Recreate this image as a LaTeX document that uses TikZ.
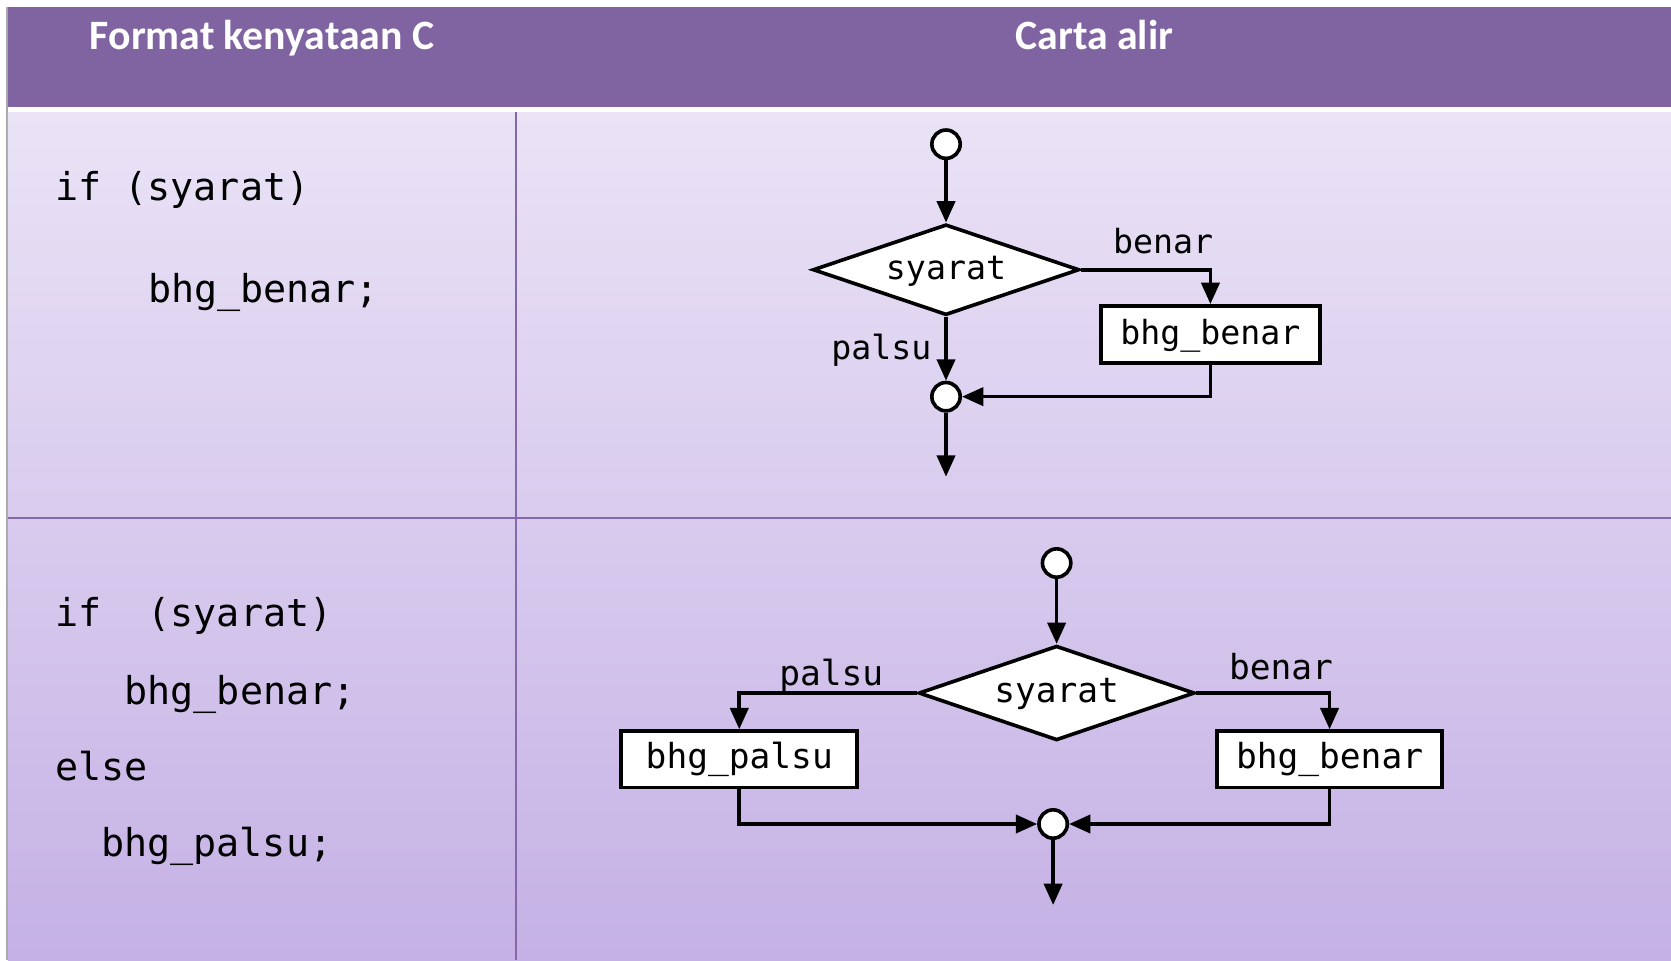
\documentclass[tikz,border=0pt]{standalone}
\usepackage{fontspec}
\setmainfont{Carlito}
\newfontfamily\codefont{DejaVu Sans Mono}
\usetikzlibrary{shapes.geometric,arrows.meta}
\definecolor{hdrpurple}{HTML}{8064A2}
\definecolor{bodytop}{HTML}{EAE3F6}
\definecolor{bodybot}{HTML}{C5B1E5}
\definecolor{gridline}{HTML}{8468A8}
\definecolor{edgegray}{HTML}{A8A8A8}
\begin{document}
\begin{tikzpicture}[x=0.5pt,y=-0.5pt,
  hdrtxt/.style={text=white,inner sep=0pt,anchor=base,font=\fontsize{19.6}{23}\selectfont\bfseries},
  codetxt/.style={inner sep=0pt,anchor=base west,font=\codefont\fontsize{18}{22}\selectfont},
  flowline/.style={line width=1.7pt,draw=black},
  arr/.style={flowline,-{Triangle[length=10pt,width=8.5pt]}},
  termc/.style={circle,draw,line width=1.7pt,fill=white,minimum size=13.3pt,inner sep=0pt},
  decis/.style={diamond,draw,line width=1.7pt,fill=white,inner sep=0pt,aspect=2.9,text height=1.06em,text depth=0.16em},
  procbox/.style={rectangle,draw,line width=1.7pt,fill=white,inner sep=0pt,text height=1.06em,text depth=0.16em},
  ftxtA/.style={font=\codefont\fontsize{15.6}{18}\selectfont},
  ftxtB/.style={font=\codefont\fontsize{16.2}{19}\selectfont},
  lbl/.style={inner sep=0pt,anchor=base}
]
\useasboundingbox (0,0) rectangle (1568,901);
% background
\fill[white] (0,0) rectangle (1568,901);
\draw[edgegray,line width=0.75pt] (6.5,7) -- (6.5,901);
\fill[hdrpurple] (7.5,6.6) rectangle (1568,100.4);
\shade[top color=bodytop,bottom color=bodybot] (7.5,105.1) rectangle (1568,901);
\draw[gridline,line width=1pt] (484.2,105.1) -- (484.2,901);
\draw[gridline,line width=1pt] (7.5,486.4) -- (1568,486.4);

% header
\node[hdrtxt] (h1) at (245.9,46.3) {Format kenyataan C};
\node[hdrtxt] (h2) at (1027,46.3) {Carta alir};

% code column
\node[codetxt] (c1) at (51.5,188.6) {if (syarat)};
\node[codetxt] (c2) at (138.5,284.3) {bhg\_benar;};
\node[codetxt] (c3) at (51.5,588) {if\ \ (syarat)};
\node[codetxt] (c4) at (116.5,660.6) {bhg\_benar;};
\node[codetxt] (c5) at (51.5,732) {else};
\node[codetxt] (c6) at (94.6,803.9) {bhg\_palsu;};

% flowchart 1
\node[termc] (s1) at (887.7,135.3) {};
\node[decis,ftxtA,minimum width=125pt,minimum height=42.6pt] (d1) at (887.7,253.1) {syarat};
\node[procbox,ftxtA,minimum width=102.8pt,minimum height=26.9pt] (b1) at (1135.8,313.9) {bhg\_benar};
\node[termc] (j1) at (887.7,372.2) {};
\coordinate (e1) at (887.7,447.3);
\draw[arr] (s1) -- (d1);
\draw[arr] (d1.east) -| (b1.north);
\draw[arr] (d1) -- (j1);
\draw[arr] (b1.south) |- (j1.east);
\draw[arr] (j1) -- (e1);
\node[lbl,ftxtA] (t1) at (1091.4,237.7) {benar};
\node[lbl,ftxtA] (f1) at (827.1,337.2) {palsu};

% flowchart 2
\node[termc] (s2) at (991.5,528.3) {};
\node[decis,ftxtB,minimum width=129.5pt,minimum height=44.4pt] (d2) at (991.5,650.3) {syarat};
\node[procbox,ftxtB,minimum width=110.7pt,minimum height=26.5pt] (bp) at (693.7,712.5) {bhg\_palsu};
\node[procbox,ftxtB,minimum width=105.6pt,minimum height=26.5pt] (bb) at (1247.6,712.5) {bhg\_benar};
\node[termc] (j2) at (988.2,773.2) {};
\coordinate (e2) at (988.2,849.2);
\draw[arr] (s2) -- (d2);
\draw[arr] (d2.west) -| (bp.north);
\draw[arr] (d2.east) -| (bb.north);
\draw[arr] (bp.south) |- (j2.west);
\draw[arr] (bb.south) |- (j2.east);
\draw[arr] (j2) -- (e2);
\node[lbl,ftxtB] (f2) at (780,642.8) {palsu};
\node[lbl,ftxtB] (t2) at (1202,638) {benar};
\end{tikzpicture}
\end{document}
